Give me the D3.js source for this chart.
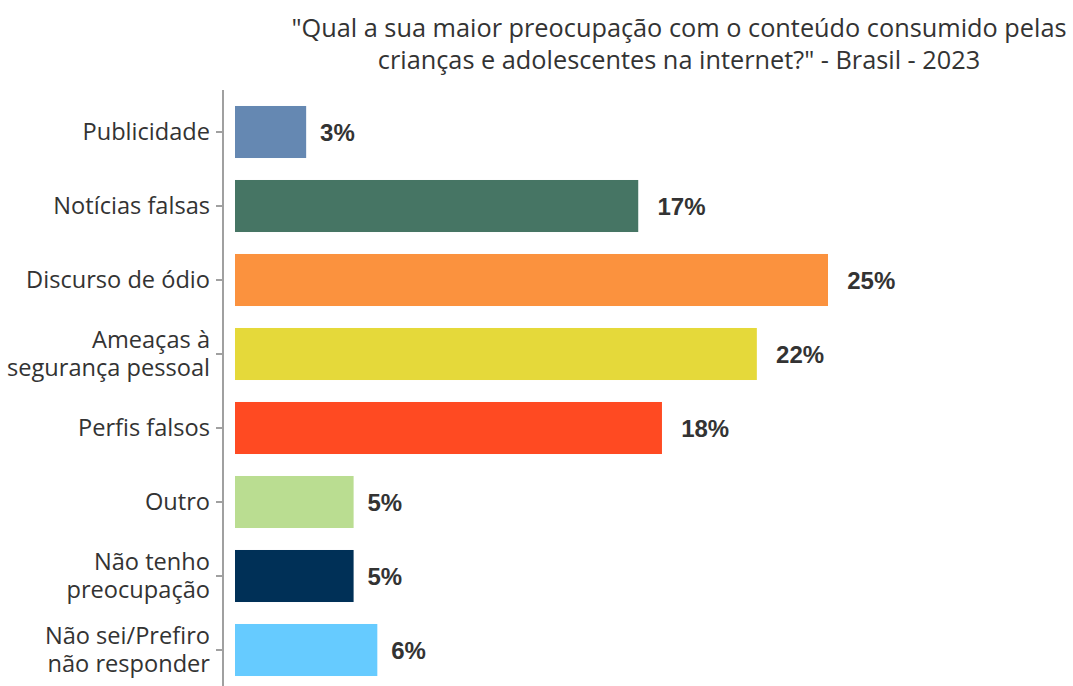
<!DOCTYPE html>
<html>
<head>
<meta charset="utf-8">
<script src="https://cdn.jsdelivr.net/npm/d3@7"></script>
<style>
  body { margin: 0; background: #fff; }
  svg { display: block; }
</style>
</head>
<body>
<div id="chart"></div>
<script>
// -------- data ---------- //
var categories = [
  "Publicidade",
  "Notícias falsas",
  "Discurso de ódio",
  "Ameaças à\nsegurança pessoal",
  "Perfis falsos",
  "Outro",
  "Não tenho\npreocupação",
  "Não sei/Prefiro\nnão responder"
];
var values = [3, 17, 25, 22, 18, 5, 5, 6];
var colors = ["#6588b2", "#467564", "#fb923e", "#e5d93a", "#ff4a22", "#badd91", "#003057", "#66cbff"];
var titleLines = [
  "\"Qual a sua maior preocupação com o conteúdo consumido pelas",
  "crianças e adolescentes na internet?\" - Brasil - 2023"
];

var width = 1073;
var height = 686;
var axisX = 223;
var labelFont = "'Open Sans', 'Noto Sans', sans-serif";

var data = categories.map(function(c, i) {
  return { cat: c, value: values[i], color: colors[i] };
});

var svg = d3
  .select("#chart")
  .append("svg")
  .attr("width", width)
  .attr("height", height);

// scales
var x = d3.scaleLinear().domain([0, 25]).range([235, 828]);
var y = d3
  .scaleBand()
  .domain(categories)
  .range([95, 687])
  .paddingInner(0.297)
  .paddingOuter(0.1485);

// title
svg
  .append("text")
  .attr("text-anchor", "middle")
  .attr("font-family", labelFont)
  .attr("font-size", 25.3)
  .attr("fill", "#333")
  .selectAll("tspan")
  .data(titleLines)
  .join("tspan")
  .attr("x", 679)
  .attr("y", function(d, i) { return 37 + i * 31.5; })
  .text(function(d) { return d; });

// y axis
var yAxis = svg
  .append("g")
  .attr("transform", "translate(" + axisX + ",0)")
  .call(d3.axisLeft(y).tickSize(7).tickSizeOuter(0).tickPadding(6));

yAxis.select(".domain").remove();
yAxis
  .append("line")
  .attr("y1", 90)
  .attr("y2", height)
  .attr("stroke", "#a0a0a0")
  .attr("stroke-width", 2);
yAxis.selectAll(".tick line").attr("stroke", "#a0a0a0").attr("stroke-width", 2);

yAxis
  .selectAll(".tick text")
  .attr("font-family", labelFont)
  .attr("font-size", 23.6)
  .attr("fill", "#333")
  .each(function(d) {
    var lines = d.split("\n");
    var t = d3.select(this).text(null).attr("dy", null);
    lines.forEach(function(line, i) {
      t.append("tspan")
        .attr("x", -13)
        .attr("dy", i === 0 ? (0.35 - (lines.length - 1) * 0.6) + "em" : "1.2em")
        .text(line);
    });
  });

// bars
svg
  .append("g")
  .selectAll("rect")
  .data(data)
  .join("rect")
  .attr("x", x(0))
  .attr("y", function(d) { return y(d.cat); })
  .attr("width", function(d) { return x(d.value) - x(0); })
  .attr("height", y.bandwidth())
  .attr("fill", function(d) { return d.color; });

// value labels (left edge pushed out by 40% of text width)
svg
  .append("g")
  .selectAll("text")
  .data(data)
  .join("text")
  .attr("y", function(d) { return y(d.cat) + y.bandwidth() / 2; })
  .attr("dy", "0.36em")
  .attr("font-family", "'Liberation Sans', Arial, sans-serif")
  .attr("font-weight", "bold")
  .attr("font-size", 24)
  .attr("fill", "#333")
  .text(function(d) { return d.value + "%"; })
  .attr("x", function(d) {
    return x(d.value) + 0.4 * this.getComputedTextLength();
  });
</script>
</body>
</html>
